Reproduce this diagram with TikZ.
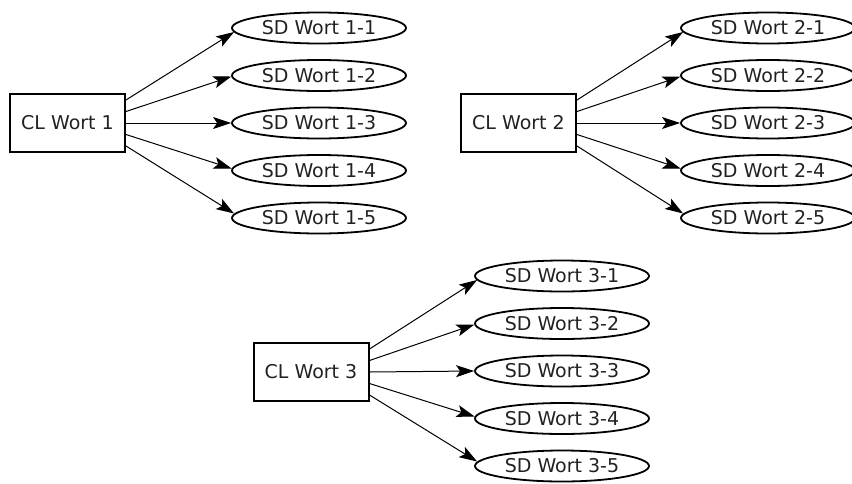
\documentclass[tikz,border=0pt]{standalone}
\usepackage{fontspec}
\setmainfont{DejaVu Sans}
\usetikzlibrary{shapes.geometric,arrows.meta}

\begin{document}
\begin{tikzpicture}[x=1pt,y=-1pt,
  labelfont/.style={font=\fontsize{19}{22}\selectfont, text=black!87},
  clbox/.style={draw, line width=2pt, minimum width=115pt, minimum height=58pt,
    inner sep=0pt, labelfont},
  sdell/.style={draw, ellipse, line width=1.8pt, minimum width=174pt,
    minimum height=31pt, inner sep=0pt, labelfont},
  link/.style={line width=1pt, -{Stealth[length=18pt,width=12pt,inset=4pt]}}]
\useasboundingbox (0,0) rectangle (852,483);

% group 1
\node[clbox] (b1) at (67.5,123) {CL Wort 1};
\node[sdell] (e11) at (319,28)    {SD Wort 1-1};
\node[sdell] (e12) at (319,75.5)  {SD Wort 1-2};
\node[sdell] (e13) at (319,123)   {SD Wort 1-3};
\node[sdell] (e14) at (319,170.5) {SD Wort 1-4};
\node[sdell] (e15) at (319,218)   {SD Wort 1-5};

% group 2
\node[clbox] (b2) at (518.5,123) {CL Wort 2};
\node[sdell] (e21) at (768,28)    {SD Wort 2-1};
\node[sdell] (e22) at (768,75.5)  {SD Wort 2-2};
\node[sdell] (e23) at (768,123)   {SD Wort 2-3};
\node[sdell] (e24) at (768,170.5) {SD Wort 2-4};
\node[sdell] (e25) at (768,218)   {SD Wort 2-5};

% group 3
\node[clbox] (b3) at (311,372) {CL Wort 3};
\node[sdell] (e31) at (562,276)   {SD Wort 3-1};
\node[sdell] (e32) at (562,323.5) {SD Wort 3-2};
\node[sdell] (e33) at (562,371)   {SD Wort 3-3};
\node[sdell] (e34) at (562,418.5) {SD Wort 3-4};
\node[sdell] (e35) at (562,466)   {SD Wort 3-5};

% connectors: fanned out along the right side of each box
\foreach \g in {1,2,3}{
  \draw[link] ([yshift=23pt]b\g.east)   -- ([shift={(3,4)}]e\g1.west);
  \draw[link] ([yshift=11.5pt]b\g.east) -- ([shift={(0.3,1)}]e\g2.west);
  \draw[link] (b\g.east)                -- (e\g3.west);
  \draw[link] ([yshift=-11.5pt]b\g.east)-- ([shift={(0.5,-2)}]e\g4.west);
  \draw[link] ([yshift=-23pt]b\g.east)  -- ([shift={(3,-4.5)}]e\g5.west);
}
\end{tikzpicture}
\end{document}
